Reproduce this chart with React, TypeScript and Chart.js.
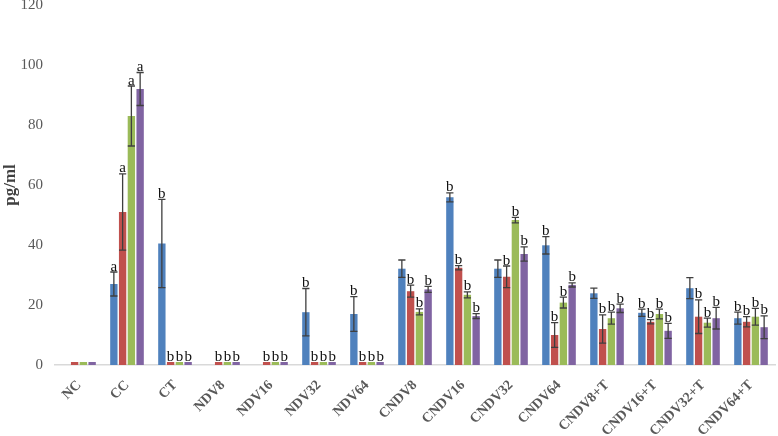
import React, { useEffect, useRef } from "react";
import { Chart, registerables } from "chart.js";

Chart.register(...registerables);

const categories = ["NC", "CC", "CT", "NDV8", "NDV16", "NDV32", "NDV64", "CNDV8", "CNDV16", "CNDV32", "CNDV64", "CNDV8+T", "CNDV16+T", "CNDV32+T", "CNDV64+T"];

const yTicks = [0, 20, 40, 60, 80, 100, 120];

const blueValues = [0, 27, 40.5, 0, 0, 17.6, 17, 32.1, 55.9, 32.1, 39.9, 23.9, 17.4, 25.6, 15.6];
const blueErrors = [0, 4, 14.7, 0, 0, 7.9, 5.8, 2.9, 1.5, 2.9, 2.9, 1.7, 1.2, 3.5, 2];
const blueLetters = ["", "a", "b", "", "", "b", "b", "", "b", "", "b", "", "b", "", "b"];

const redValues = [1, 51, 1, 1, 1, 1, 1, 24.6, 32.4, 29.4, 10, 12, 14.4, 16.1, 14.4];
const redErrors = [0, 12.7, 0, 0, 0, 0, 0, 2, 0.7, 3.6, 4.1, 4.7, 0.7, 5.6, 1.7];
const redLetters = ["", "a", "b", "b", "b", "b", "b", "b", "b", "b", "b", "b", "b", "b", "b"];

const greenValues = [1, 83, 1, 1, 1, 1, 1, 17.7, 23.4, 48.3, 20.8, 15.6, 17, 14.1, 16.1];
const greenErrors = [0, 10, 0, 0, 0, 0, 0, 1, 1, 0.9, 1.8, 2, 1.6, 1.5, 2.8];
const greenLetters = ["", "a", "b", "b", "b", "b", "b", "b", "b", "b", "b", "b", "b", "b", "b"];

const purpleValues = [1, 92, 1, 1, 1, 1, 1, 25.2, 16.3, 37, 26.7, 18.9, 11.4, 15.6, 12.6];
const purpleErrors = [0, 5.5, 0, 0, 0, 0, 0, 1, 0.8, 2.4, 0.7, 1.4, 2.5, 3.6, 3.8];
const purpleLetters = ["", "a", "b", "b", "b", "b", "b", "b", "b", "b", "b", "b", "b", "b", "b"];

const seriesColors = ["#4F81BD", "#C0504D", "#9BBB59", "#8064A2"];
const allErrors = [blueErrors, redErrors, greenErrors, purpleErrors];
const allLetters = [blueLetters, redLetters, greenLetters, purpleLetters];

const serif = "'Liberation Serif', 'Times New Roman', serif";

const errorBarPlugin = {
  id: "errorBarsLetters",
  afterDatasetsDraw(chart: any) {
    const ctx = chart.ctx;
    const yScale = chart.scales.y;
    ctx.save();
    chart.data.datasets.forEach((ds: any, di: number) => {
      const meta = chart.getDatasetMeta(di);
      meta.data.forEach((bar: any, i: number) => {
        const v = ds.data[i];
        const e = allErrors[di][i];
        const x = bar.x;
        let topVal = v;
        if (e > 0) {
          const yt = yScale.getPixelForValue(v + e);
          const yb = yScale.getPixelForValue(v - e);
          const half = 3.6;
          ctx.strokeStyle = "#3f3f3f";
          ctx.lineWidth = 1.3;
          ctx.beginPath();
          ctx.moveTo(x, yt);
          ctx.lineTo(x, yb);
          ctx.moveTo(x - half, yt);
          ctx.lineTo(x + half, yt);
          ctx.moveTo(x - half, yb);
          ctx.lineTo(x + half, yb);
          ctx.stroke();
          topVal = v + e;
        }
        const letter = allLetters[di][i];
        if (letter) {
          ctx.fillStyle = "#111";
          ctx.font = "15px " + serif;
          ctx.textAlign = "center";
          ctx.textBaseline = "alphabetic";
          ctx.fillText(letter, x, yScale.getPixelForValue(topVal) - 1.5);
        }
      });
    });
    ctx.restore();
  },
};

export default function App() {
  const canvasRef = useRef<HTMLCanvasElement | null>(null);

  useEffect(() => {
    if (!canvasRef.current) return;
    const values = [blueValues, redValues, greenValues, purpleValues];
    const chart = new Chart(canvasRef.current, {
      type: "bar",
      data: {
        labels: categories,
        datasets: values.map((vals, i) => ({
          label: "Series" + (i + 1),
          data: vals,
          backgroundColor: seriesColors[i],
          borderWidth: 0,
          barPercentage: 0.84,
          categoryPercentage: 0.73,
        })),
      },
      options: {
        animation: false,
        responsive: false,
        maintainAspectRatio: false,
        layout: { padding: { top: 0, right: 3, left: 0, bottom: 0 } },
        plugins: {
          legend: { display: false },
          tooltip: { enabled: false },
        },
        scales: {
          x: {
            grid: { display: false, drawTicks: false },
            border: { display: true, color: "#d9d9d9", width: 1.5 },
            ticks: {
              autoSkip: false,
              minRotation: 45,
              maxRotation: 45,
              padding: 12,
              color: "#595959",
              font: { family: serif, size: 14, weight: "bold" },
            },
            afterFit(scale: any) {
              scale.height = 71;
            },
          },
          y: {
            min: 0,
            max: 120,
            grid: { display: false, drawTicks: false },
            border: { display: false },
            afterBuildTicks(scale: any) {
              scale.ticks = yTicks.map((v) => ({ value: v }));
            },
            ticks: {
              padding: 12,
              color: "#595959",
              font: { family: serif, size: 15 },
            },
            title: {
              display: true,
              text: "pg/ml",
              color: "#404040",
              padding: { top: 0, bottom: 2 },
              font: { family: serif, size: 17, weight: "bold" },
            },
            afterFit(scale: any) {
              scale.width = 55;
              scale.paddingTop = 5;
            },
          },
        },
      },
      plugins: [errorBarPlugin],
    });
    return () => chart.destroy();
  }, []);

  return (
    <div style={{ position: "absolute", left: 0, top: 0, width: 778, height: 436, background: "#fff" }}>
      <canvas ref={canvasRef} width={778} height={436} style={{ display: "block" }} />
    </div>
  );
}
